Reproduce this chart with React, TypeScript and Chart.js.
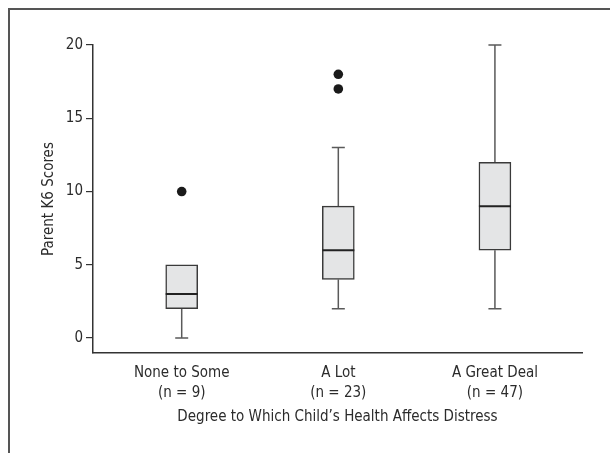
import React, { useEffect, useRef } from "react";
import { Chart, registerables } from "chart.js";

Chart.register(...registerables);

const categories = ["None to Some", "A Lot", "A Great Deal"];
const sampleSizes = ["(n = 9)", "(n = 23)", "(n = 47)"];
const positions = [1, 2, 3];
const whiskerLow = [0, 2, 2];
const q1 = [2, 4, 6];
const median = [3, 6, 9];
const q3 = [5, 9, 12];
const whiskerHigh = [5, 13, 20];
const outlierX = [1, 2, 2];
const outlierY = [10, 17, 18];
const yTickValues = [0, 5, 10, 15, 20];
const yTitle = "Parent K6 Scores";
const xTitle = "Degree to Which Child\u2019s Health Affects Distress";

const FONT = "'Liberation Sans Narrow', 'DejaVu Sans Condensed', 'Arial Narrow', sans-serif";
const TEXT = "#2b2b2b";
const FS = 15;

const boxPlugin = {
  id: "boxParts",
  beforeDatasetsDraw(chart: any) {
    const { ctx, scales } = chart;
    const xs = scales.x;
    const ys = scales.y;
    ctx.save();
    ctx.strokeStyle = "#5a5a5a";
    ctx.lineWidth = 1.5;
    positions.forEach((p, i) => {
      const x = xs.getPixelForValue(p);
      const half = 6.5;
      ctx.beginPath();
      if (whiskerHigh[i] > q3[i]) {
        ctx.moveTo(x, ys.getPixelForValue(q3[i]));
        ctx.lineTo(x, ys.getPixelForValue(whiskerHigh[i]));
        ctx.moveTo(x - half, ys.getPixelForValue(whiskerHigh[i]));
        ctx.lineTo(x + half, ys.getPixelForValue(whiskerHigh[i]));
      }
      if (whiskerLow[i] < q1[i]) {
        ctx.moveTo(x, ys.getPixelForValue(q1[i]));
        ctx.lineTo(x, ys.getPixelForValue(whiskerLow[i]));
        ctx.moveTo(x - half, ys.getPixelForValue(whiskerLow[i]));
        ctx.lineTo(x + half, ys.getPixelForValue(whiskerLow[i]));
      }
      ctx.stroke();
    });
    ctx.restore();
  },
  afterDatasetsDraw(chart: any) {
    const { ctx, scales } = chart;
    const xs = scales.x;
    const ys = scales.y;
    ctx.save();
    ctx.strokeStyle = "#222";
    ctx.lineWidth = 2;
    positions.forEach((p, i) => {
      const x = xs.getPixelForValue(p);
      const y = ys.getPixelForValue(median[i]);
      ctx.beginPath();
      ctx.moveTo(x - 16, y);
      ctx.lineTo(x + 16, y);
      ctx.stroke();
    });
    ctx.restore();
  },
};

export default function App() {
  const ref = useRef<HTMLCanvasElement | null>(null);
  useEffect(() => {
    if (!ref.current) return;
    const chart = new Chart(ref.current, {
      type: "bar",
      data: {
        datasets: [
          {
            type: "bar",
            data: positions.map((p, i) => ({ x: p, y: [q1[i], q3[i]] })) as any,
            backgroundColor: "#e4e5e6",
            borderColor: "#3a3a3a",
            borderWidth: 1.5,
            borderSkipped: false,
            barThickness: 32,
          } as any,
          {
            type: "scatter",
            data: outlierX.map((x, i) => ({ x, y: outlierY[i] })),
            pointRadius: 4.8,
            pointBackgroundColor: "#1a1a1a",
            pointBorderColor: "#1a1a1a",
            pointBorderWidth: 0,
          } as any,
        ],
      },
      options: {
        responsive: false,
        animation: false,
        devicePixelRatio: 1,
        layout: { padding: { left: 0, right: 28, top: 45, bottom: 0 } },
        plugins: { legend: { display: false }, tooltip: { enabled: false } },
        scales: {
          x: {
            type: "linear",
            offset: false,
            min: 0.4336,
            max: 3.556,
            grid: { display: false, drawTicks: false, offset: false },
            border: { display: true, color: "#333", width: 1.5 },
            afterBuildTicks: (s: any) => {
              s.ticks = positions.map((v) => ({ value: v }));
            },
            afterFit: (s: any) => {
              s.height = 100;
            },
            ticks: {
              autoSkip: false,
              maxRotation: 0,
              padding: 10,
              color: TEXT,
              font: { family: FONT, size: FS, lineHeight: 1.33 },
              callback: (v: any) => {
                const i = positions.indexOf(Number(v));
                return i >= 0 ? [categories[i], sampleSizes[i]] : "";
              },
            },
            title: {
              display: true,
              text: xTitle,
              color: TEXT,
              font: { family: FONT, size: FS, lineHeight: 1.2 },
              padding: { top: 0, bottom: 27 },
            },
          },
          y: {
            type: "linear",
            min: -1.02,
            max: 20,
            grid: {
              display: true,
              drawOnChartArea: false,
              drawTicks: true,
              tickLength: 7,
              color: "#333",
              lineWidth: 1.2,
            },
            border: { display: true, color: "#333", width: 1.5 },
            afterBuildTicks: (s: any) => {
              s.ticks = yTickValues.map((v) => ({ value: v }));
            },
            afterFit: (s: any) => {
              s.width = 93;
            },
            ticks: {
              padding: 3,
              color: TEXT,
              font: { family: FONT, size: FS },
              callback: (v: any) => String(v),
            },
            title: {
              display: true,
              text: yTitle,
              color: TEXT,
              font: { family: FONT, size: FS, lineHeight: 1.2 },
              padding: { top: 40, bottom: 0 },
            },
          },
        },
      },
      plugins: [boxPlugin],
    } as any);
    return () => chart.destroy();
  }, []);

  return (
    <>
      <div
        style={{
          position: "fixed",
          left: 8,
          top: 8,
          width: 620,
          height: 460,
          borderTop: "2px solid #555",
          borderLeft: "2px solid #555",
          pointerEvents: "none",
        }}
      />
      <canvas
        ref={ref}
        width={610}
        height={453}
        style={{ position: "fixed", left: 0, top: 0, width: 610, height: 453 }}
      />
    </>
  );
}
